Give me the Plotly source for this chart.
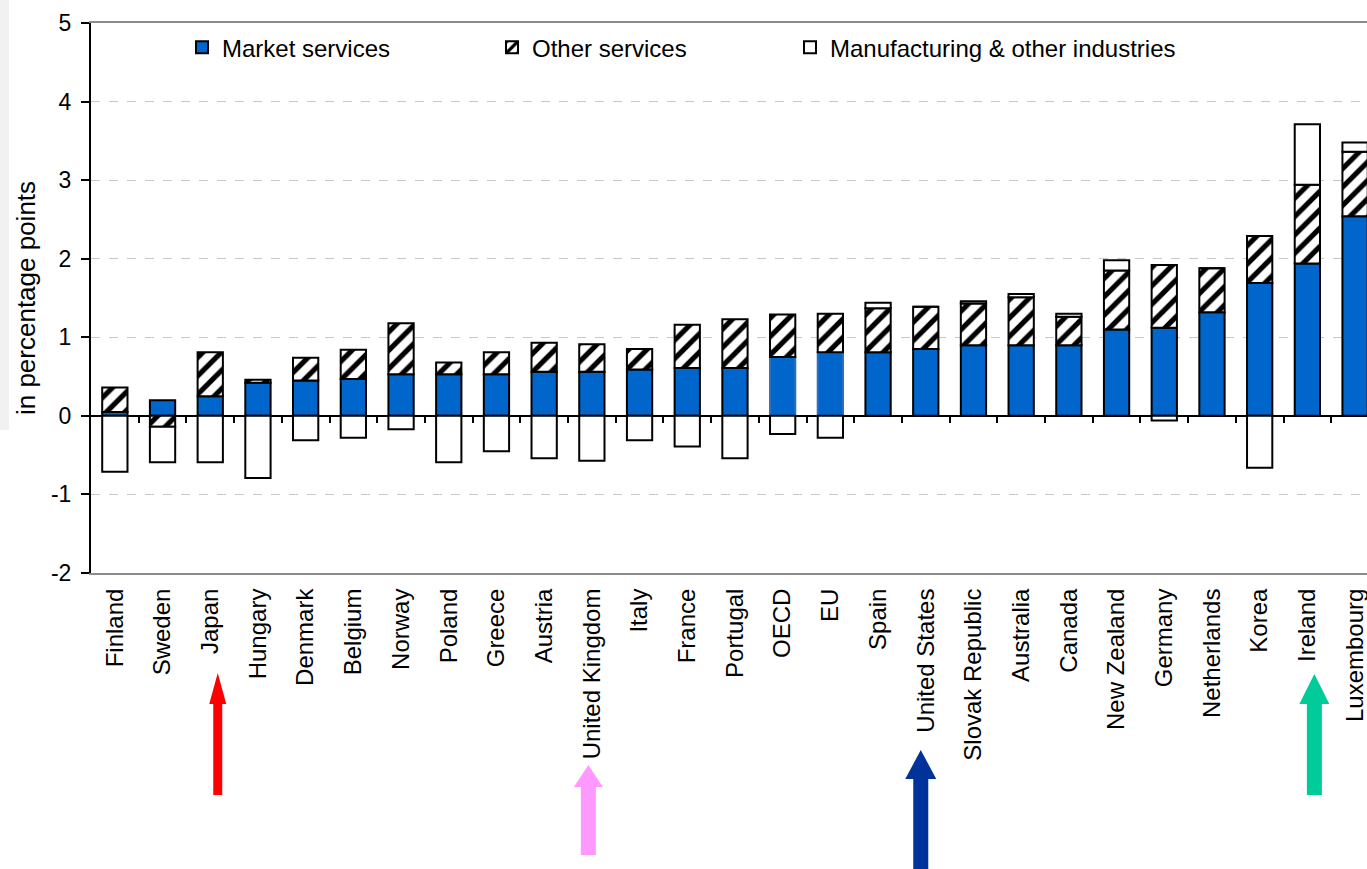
import plotly.graph_objects as go

countries = ["Finland", "Sweden", "Japan", "Hungary", "Denmark", "Belgium", "Norway",
             "Poland", "Greece", "Austria", "United Kingdom", "Italy", "France",
             "Portugal", "OECD", "EU", "Spain", "United States", "Slovak Republic",
             "Australia", "Canada", "New Zealand", "Germany", "Netherlands", "Korea",
             "Ireland", "Luxembourg"]

market_services = [0.05, 0.20, 0.25, 0.42, 0.45, 0.47, 0.53, 0.53, 0.53, 0.56, 0.56,
                   0.59, 0.61, 0.61, 0.75, 0.81, 0.81, 0.85, 0.90, 0.90, 0.90, 1.10,
                   1.12, 1.32, 1.69, 1.94, 2.54]
other_services = [0.31, -0.14, 0.56, 0.04, 0.29, 0.37, 0.65, 0.15, 0.28, 0.37, 0.35,
                  0.26, 0.55, 0.62, 0.54, 0.49, 0.56, 0.54, 0.53, 0.61, 0.36, 0.75,
                  0.80, 0.56, 0.60, 1.00, 0.82]
manufacturing = [-0.71, -0.45, -0.59, -0.79, -0.31, -0.28, -0.17, -0.59, -0.45, -0.54,
                 -0.57, -0.31, -0.39, -0.54, -0.23, -0.28, 0.07, 0.0, 0.03, 0.04, 0.04,
                 0.13, -0.06, 0.0, -0.66, 0.77, 0.12]

y_ticks = [-2, -1, 0, 1, 2, 3, 4, 5]
y_tick_text = ["-2", "-1", "0", "1", "2", "3", "4", "5"]

FONT = "Liberation Sans, Arial, sans-serif"
BLUE = "#0066CC"

market_line = ["#2f6fc0" if c in ("OECD", "EU") else "black" for c in countries]

fig = go.Figure()
fig.add_trace(go.Bar(
    x=countries, y=market_services, name="Market services", legend="legend",
    marker=dict(color=BLUE, line=dict(color=market_line, width=2)),
))
fig.add_trace(go.Bar(
    x=countries, y=other_services, name="Other services", legend="legend2",
    marker=dict(color="white", line=dict(color="black", width=2),
                pattern=dict(shape="/", fgcolor="black", bgcolor="white",
                             fgopacity=1, size=13, solidity=0.4,
                             fillmode="replace")),
))
fig.add_trace(go.Bar(
    x=countries, y=manufacturing, name="Manufacturing & other industries",
    legend="legend3",
    marker=dict(color="white", line=dict(color="black", width=2)),
))
# invisible helper trace so the tick-only axis at zero is drawn
fig.add_trace(go.Scatter(x=[0], y=[0], xaxis="x2", mode="markers",
                         marker=dict(opacity=0), showlegend=False, hoverinfo="skip"))

XMAX = 26.25
n = len(countries)

# Arrow decorations under selected categories
PX_PER_UNIT = 1276 / (XMAX + 0.5)
arrows = [
    # category, dx(px), tip, head base, bottom (px from top), shaft hw, head hw, colour
    ("Japan", 7.5, 673, 704, 795, 4.5, 8.5, "#FF0000"),
    ("United Kingdom", -3.5, 765, 787, 855, 7.5, 14.5, "#FF99FF"),
    ("United States", -5, 750, 779, 885, 7.5, 15.5, "#003399"),
    ("Ireland", 7, 674, 704, 795, 7.5, 15, "#00CC99"),
]
TOP, LEFT, PLOT_H, PLOT_W = 23, 91, 550, 1276


def py(p):
    return (TOP + PLOT_H - p) / PLOT_H


def px(p):
    return (p - LEFT) / PLOT_W


shapes = []
for cat, dx, tip, base, bottom, shw, hhw, col in arrows:
    cx = countries.index(cat) + dx / PX_PER_UNIT
    s = shw / PX_PER_UNIT
    h = hhw / PX_PER_UNIT
    path = (f"M {cx - s},{py(bottom)} L {cx - s},{py(base)} L {cx - h},{py(base)} "
            f"L {cx},{py(tip)} L {cx + h},{py(base)} L {cx + s},{py(base)} "
            f"L {cx + s},{py(bottom)} Z")
    shapes.append(dict(type="path", path=path, xref="x2", yref="paper",
                       fillcolor=col, line=dict(width=0), layer="above"))

# faint grey band at the far left edge of the original image
shapes.append(dict(type="rect", xref="paper", yref="paper",
                   x0=px(0), x1=px(9), y0=py(430), y1=py(0),
                   fillcolor="#F1F1F1", line=dict(width=0), layer="below"))

legend_common = dict(orientation="h", xanchor="left", y=0.955, yanchor="middle",
                     font=dict(size=24, family=FONT), bgcolor="rgba(0,0,0,0)",
                     itemwidth=30)

fig.update_layout(
    width=1367, height=869,
    margin=dict(l=LEFT, r=0, t=TOP, b=869 - TOP - PLOT_H, autoexpand=False),
    paper_bgcolor="white", plot_bgcolor="white",
    barmode="relative", bargap=0.47,
    font=dict(family=FONT, color="black"),
    showlegend=True,
    legend=dict(x=px(182), **legend_common),
    legend2=dict(x=px(492), **legend_common),
    legend3=dict(x=px(790), **legend_common),
    xaxis=dict(type="category", range=[-0.5, XMAX], tickangle=-90,
               tickfont=dict(size=24, family=FONT), showgrid=False,
               showline=True, mirror=True, linecolor="#8c8c8c", linewidth=2,
               ticks="", ticklabelstandoff=4, fixedrange=True),
    xaxis2=dict(overlaying="x", anchor="free", position=2 / 7, range=[-0.5, XMAX],
                showgrid=False, showline=False, zeroline=False,
                tickvals=[i + 0.5 for i in range(n - 1)], ticks="outside",
                ticklen=6, tickwidth=1.5, tickcolor="black", showticklabels=False),
    yaxis=dict(range=[-2, 5], tickvals=y_ticks, ticktext=y_tick_text,
               ticks="outside", ticklen=8, tickwidth=1.5, tickcolor="black",
               tickfont=dict(size=23, family=FONT), ticklabelstandoff=5,
               showline=True, linecolor="black", linewidth=2,
               showgrid=True, gridcolor="#C8C8C8", griddash="dash", gridwidth=1,
               zeroline=True, zerolinecolor="black", zerolinewidth=1.5,
               title=dict(text="in percentage points", font=dict(size=26, family=FONT),
                          standoff=8)),
    shapes=shapes,
)

fig.write_html("out.html", config={"displayModeBar": False},
               post_script="document.body.style.margin='0';"
                           "document.body.style.overflow='hidden';")
